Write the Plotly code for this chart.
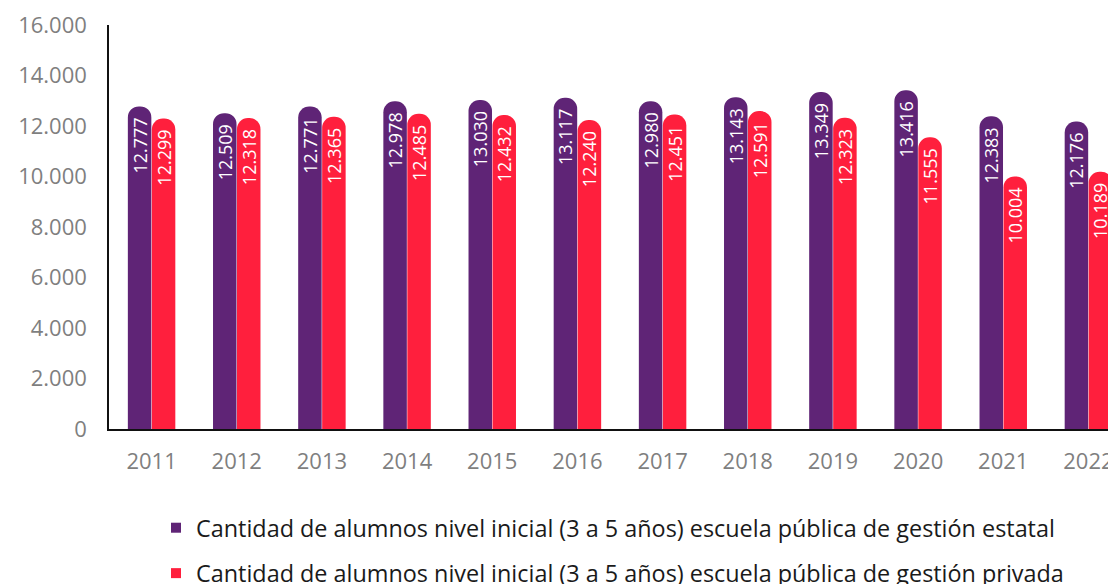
import plotly.graph_objects as go

years = ["2011", "2012", "2013", "2014", "2015", "2016", "2017", "2018", "2019", "2020", "2021", "2022"]
estatal = [12777, 12509, 12771, 12978, 13030, 13117, 12980, 13143, 13349, 13416, 12383, 12176]
privada = [12299, 12318, 12365, 12485, 12432, 12240, 12451, 12591, 12323, 11555, 10004, 10189]
name_estatal = "Cantidad de alumnos nivel inicial (3 a 5 años) escuela pública de gestión estatal"
name_privada = "Cantidad de alumnos nivel inicial (3 a 5 años) escuela pública de gestión privada"
y_ticks = [0, 2000, 4000, 6000, 8000, 10000, 12000, 14000, 16000]


def fmt(v):
    return f"{v:,}".replace(",", ".")


FONT = "Open Sans"
fig = go.Figure()
for vals, name, color in [
    (estatal, name_estatal, "#5F2476"),
    (privada, name_privada, "#FF1F3D"),
]:
    fig.add_trace(go.Bar(
        x=years, y=vals, name=name, marker_color=color, marker_line_width=0,
        text=[fmt(v) for v in vals], textposition="inside", insidetextanchor="end",
        textangle=-90, textfont=dict(color="white", size=18, family=FONT),
        showlegend=False, cliponaxis=False,
    ))
# legend entries with square markers
for name, color, grp in [(name_estatal, "#5F2476", "a"), (name_privada, "#FF1F3D", "b")]:
    fig.add_trace(go.Scatter(
        x=[None], y=[None], mode="markers", name=name, legendgroup=grp,
        marker=dict(symbol="square", size=10, color=color),
    ))

# The source chart is wider/taller than the visible window and is clipped by it
W, H = 1131, 640
L, T = 109, 25
AXIS_Y = 429
B = H - AXIS_Y
fig.update_layout(
    width=W, height=H,
    margin=dict(l=L, r=0, t=T, b=B, autoexpand=False),
    plot_bgcolor="white", paper_bgcolor="white",
    barmode="group", bargap=0.437, bargroupgap=0.02,
    barcornerradius="50%",
    font=dict(family=FONT),
    uniformtext=dict(minsize=18, mode="show"),
    showlegend=True,
    legend=dict(
        orientation="v", x=47 / (W - L), xref="paper", xanchor="left",
        y=(H - 506) / H, yref="container", yanchor="top",
        font=dict(size=23.4, color="#1a1a1a", family=FONT),
        tracegroupgap=12, itemwidth=30,
    ),
    xaxis=dict(
        type="category", range=[-0.5, 11.5], showline=True, linecolor="#111111", linewidth=1.5,
        ticks="", ticklabelstandoff=12, tickfont=dict(size=22, color="#7f7f7f"), showgrid=False,
        automargin=False,
    ),
    yaxis=dict(
        range=[0, 16000], tickvals=y_ticks, ticktext=[fmt(v) for v in y_ticks],
        showline=True, linecolor="#111111", linewidth=1.5, ticks="", ticklabelstandoff=16,
        tickfont=dict(size=22, color="#7f7f7f"), showgrid=False, zeroline=False,
        automargin=False,
    ),
)
fig.write_html("out.html", config={"displayModeBar": False},
               post_script="document.body.style.margin='0';document.body.style.overflow='hidden';")
